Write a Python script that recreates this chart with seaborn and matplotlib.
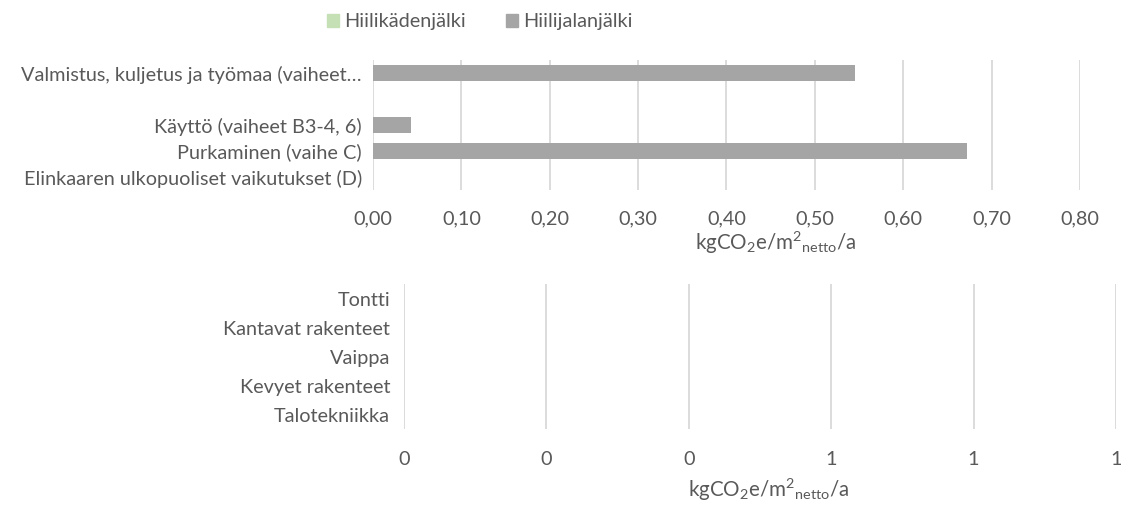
import numpy as np
import pandas as pd
import matplotlib
matplotlib.use("Agg")
import matplotlib.pyplot as plt
import seaborn as sns
from matplotlib.patches import Patch
from matplotlib.ticker import FuncFormatter

# Data
phase_labels = ["Valmistus, kuljetus ja työmaa (vaiheet…", " ",
                "Käyttö (vaiheet B3-4, 6)", "Purkaminen (vaihe C)",
                "Elinkaaren ulkopuoliset vaikutukset (D)"]
phase_footprint = [0.546, 0.0, 0.043, 0.672, 0.0]
phase_handprint = [0.0, 0.0, 0.0, 0.0, 0.0]

part_labels = ["Tontti", "Kantavat rakenteet", "Vaippa", "Kevyet rakenteet", "Talotekniikka"]
part_footprint = [0.0, 0.0, 0.0, 0.0, 0.0]
part_handprint = [0.0, 0.0, 0.0, 0.0, 0.0]

series_names = ["Hiilikädenjälki", "Hiilijalanjälki"]
unit_label = r"kgCO$_2$e/m$^2$$_{\mathrm{netto}}$/a"

sns.set_theme(style="white")
plt.rcParams['font.family'] = ['Lato', 'DejaVu Sans']
plt.rcParams['mathtext.fontset'] = 'custom'
plt.rcParams['mathtext.rm'] = 'Lato'
plt.rcParams['mathtext.it'] = 'Lato:italic'

TEXT = "#595959"
GRID = "#d9d9d9"
GREY = "#a5a5a5"
GREEN = "#c5e0b4"
FS = 14.3

fig = plt.figure(figsize=(11.21, 5.08), dpi=100)
ax1 = fig.add_axes([0.3327, 0.6260, 0.6307, 0.2559])
ax2 = fig.add_axes([0.3604, 0.1555, 0.6351, 0.2854])


def draw(ax, labels, hand, foot, xmax, step, fmt, ypad, xpad):
    df = pd.DataFrame({"cat": labels, "hand": hand, "foot": foot})
    sns.barplot(data=df, y="cat", x="hand", order=labels, color=GREEN,
                saturation=1, width=0.65, linewidth=0, ax=ax)
    sns.barplot(data=df, y="cat", x="foot", order=labels, color=GREY,
                saturation=1, width=0.65, linewidth=0, ax=ax)
    ax.set_xlim(0, xmax)
    ax.set_xticks(np.arange(0, xmax + step / 2, step))
    ax.xaxis.set_major_formatter(FuncFormatter(fmt))
    ax.grid(axis="x", color=GRID, linewidth=1.3)
    ax.grid(axis="y", visible=False)
    ax.set_axisbelow(True)
    for s in ax.spines.values():
        s.set_visible(False)
    ax.tick_params(axis="both", length=0, labelsize=FS, colors=TEXT)
    ax.tick_params(axis="y", pad=ypad)
    ax.tick_params(axis="x", pad=xpad)
    ax.set_ylabel("")
    ax.set_xlabel(unit_label, fontsize=FS + 0.5, color=TEXT)


draw(ax1, phase_labels, phase_handprint, phase_footprint, 0.8, 0.1,
     lambda v, p: f"{v:.2f}".replace(".", ","), 8, 15)
ax1.xaxis.set_label_coords(0.570, -0.31)

draw(ax2, part_labels, part_handprint, part_footprint, 1.0, 0.2,
     lambda v, p: f"{v:.0f}", 10, 16)
ax2.xaxis.set_label_coords(0.512, -0.33)

handles = [Patch(color=GREEN), Patch(color=GREY)]
fig.legend(handles, series_names, loc="center", bbox_to_anchor=(0.428, 0.957),
           ncol=2, frameon=False, fontsize=FS, labelcolor=TEXT,
           handlelength=0.62, handleheight=0.62, handletextpad=0.26, columnspacing=2.0)

fig.savefig("out.png", dpi=100)
